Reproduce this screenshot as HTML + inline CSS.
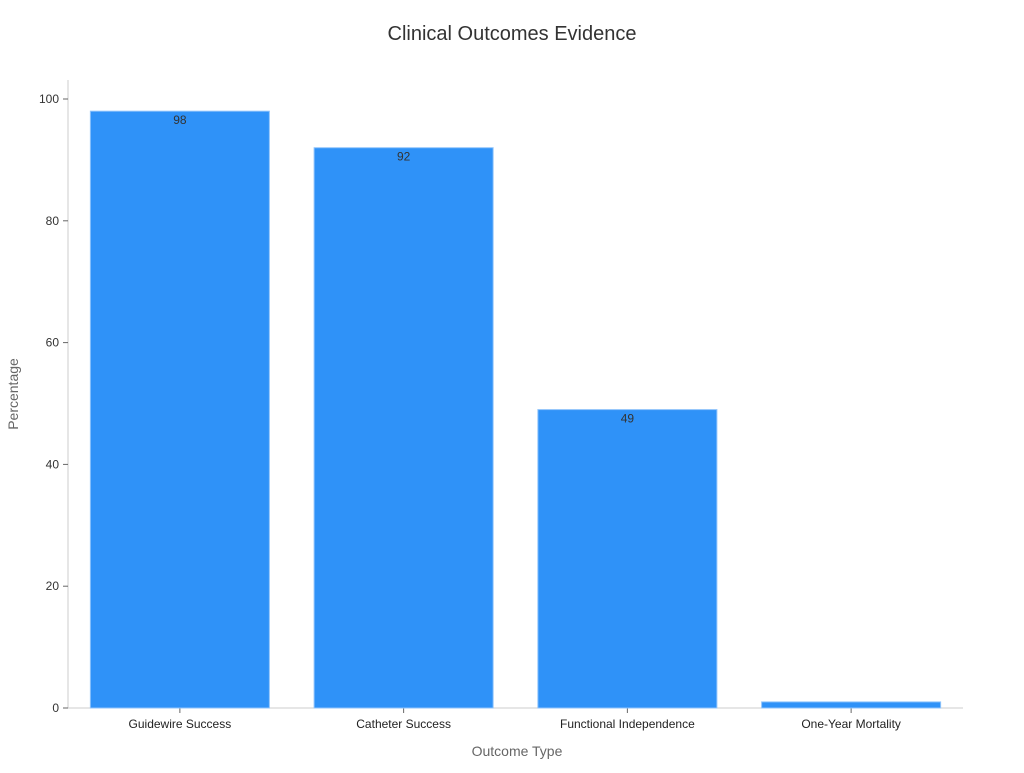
<!DOCTYPE html>
<html><head><meta charset="utf-8"><style>
body{margin:0;background:#fff;font-family:"Liberation Sans","DejaVu Sans",sans-serif}
</style></head><body>
<svg id="chart" width="1024" height="768" xmlns="http://www.w3.org/2000/svg">
<text x="512" y="40" text-anchor="middle" font-size="20" fill="#333">Clinical Outcomes Evidence</text>
<g id="yaxis"></g>
<g id="xaxis"></g>
<g id="bars"></g>
<text x="517" y="756" text-anchor="middle" font-size="14" fill="#666">Outcome Type</text>
<text transform="translate(18,394) rotate(-90)" text-anchor="middle" font-size="14" fill="#666">Percentage</text>
</svg>
<script>
const categories=["Guidewire Success","Catheter Success","Functional Independence","One-Year Mortality"];
const values=[98,92,49,1];
const yTicks=[0,20,40,60,80,100];
const NS="http://www.w3.org/2000/svg";
const L=68,R=963,B=708,T=80,yMax=100,pxTop=99;
function y(v){return B-(B-pxTop)*v/yMax;}
const band=(R-L)/categories.length;
function xc(i){return L+band*(i+0.5);}
function mk(tag,attrs,parent){const e=document.createElementNS(NS,tag);for(const k in attrs)e.setAttribute(k,attrs[k]);parent.appendChild(e);return e;}
const ya=document.getElementById('yaxis'),xa=document.getElementById('xaxis'),bg=document.getElementById('bars');
mk('line',{x1:L,y1:T,x2:L,y2:B,stroke:'#ccc'},ya);
mk('line',{x1:L,y1:B,x2:R,y2:B,stroke:'#ccc'},xa);
yTicks.forEach(t=>{
  const ln=mk('line',{x1:L-5,y1:y(t),x2:L,y2:y(t),stroke:'#666'},ya);
  
  
  const tx=mk('text',{x:L-9,y:y(t)+4,'text-anchor':'end','font-size':12,fill:'#333'},ya);
  tx.textContent=t;
  
  
});
const bw=band*0.8;
categories.forEach((c,i)=>{
  const v=values[i];
  const r=mk('rect',{x:xc(i)-bw/2,y:y(v),width:bw,height:B-y(v),fill:'#2f92f8',stroke:'#8fc3fb','stroke-width':1},bg);
  
  
  if(B-y(v)>20){
    const lb=mk('text',{x:xc(i),y:y(v)+13,'text-anchor':'middle','font-size':12,fill:'#333'},bg);
    lb.textContent=v;
    
    
  }
  const tk=mk('line',{x1:xc(i),y1:B,x2:xc(i),y2:B+5,stroke:'#666'},xa);
  
  
  const tx=mk('text',{x:xc(i),y:B+20,'text-anchor':'middle','font-size':12,fill:'#222'},xa);
  tx.textContent=c;
  
  
});
</script>
</body></html>
